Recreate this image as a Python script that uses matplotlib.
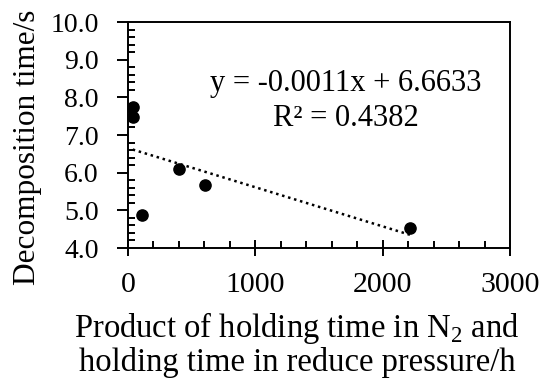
import numpy as np
import matplotlib
matplotlib.use("Agg")
import matplotlib.pyplot as plt
from matplotlib.ticker import MultipleLocator

# product of holding times (h) vs decomposition time (s)
product_h = [37, 42, 110, 400, 607, 2215]
decomp_s = [7.74, 7.47, 4.88, 6.09, 5.67, 4.52]

eq_text = "y = -0.0011x + 6.6633"
r2_text = "R² = 0.4382"

plt.rcParams["font.family"] = ["Liberation Serif", "DejaVu Serif"]
plt.rcParams["mathtext.fontset"] = "custom"
plt.rcParams["mathtext.rm"] = "Liberation Serif"

W, H = 539, 378
fig = plt.figure(figsize=(W / 100, H / 100), dpi=100)
ax = fig.add_axes([128 / W, 1 - 248 / H, (510 - 128) / W, (248 - 22) / H])

x = np.array(product_h, dtype=float)
y = np.array(decomp_s, dtype=float)
ax.scatter(x, y, s=65, color="black", zorder=3)

# linear trendline over data range
k, b = np.polyfit(x, y, 1)
xs = np.array([x.min(), x.max()])
ax.plot(xs, k * xs + b, color="black", ls=(0, (1, 1.5)), lw=1.8)

ax.set_xlim(0, 3000)
ax.set_ylim(4.0, 10.0)
ax.xaxis.set_major_locator(MultipleLocator(1000))
ax.xaxis.set_minor_locator(MultipleLocator(200))
ax.yaxis.set_major_locator(MultipleLocator(1.0))
ax.yaxis.set_minor_locator(MultipleLocator(0.2))
ax.yaxis.set_major_formatter(plt.FuncFormatter(lambda v, p: f"{v:.1f}"))

ax.tick_params(axis="x", which="major", direction="inout", length=12, width=1.4,
               labelsize=21.5, pad=11)
ax.tick_params(axis="x", which="minor", direction="in", length=5, width=1.4)
ax.tick_params(axis="y", which="major", direction="out", length=8, width=1.4,
               labelsize=20, pad=13)
ax.tick_params(axis="y", which="minor", direction="in", length=5, width=1.4)
for sp in ax.spines.values():
    sp.set_linewidth(1.4)

ax.text(0.57, 0.65, eq_text + "\n" + r2_text, transform=ax.transAxes,
        ha="center", va="center", fontsize=22, linespacing=1.3)

fig.text(28 / W, 1 - 147 / H, "Decomposition time/s", rotation=90,
         ha="center", va="center", fontsize=22.5)
fig.text(297 / W, 1 - 344 / H, "Product of holding time in N$_2$ and\nholding time in reduce pressure/h",
         ha="center", va="center", fontsize=23.5, linespacing=1.06)

fig.savefig("out.png", dpi=100)
